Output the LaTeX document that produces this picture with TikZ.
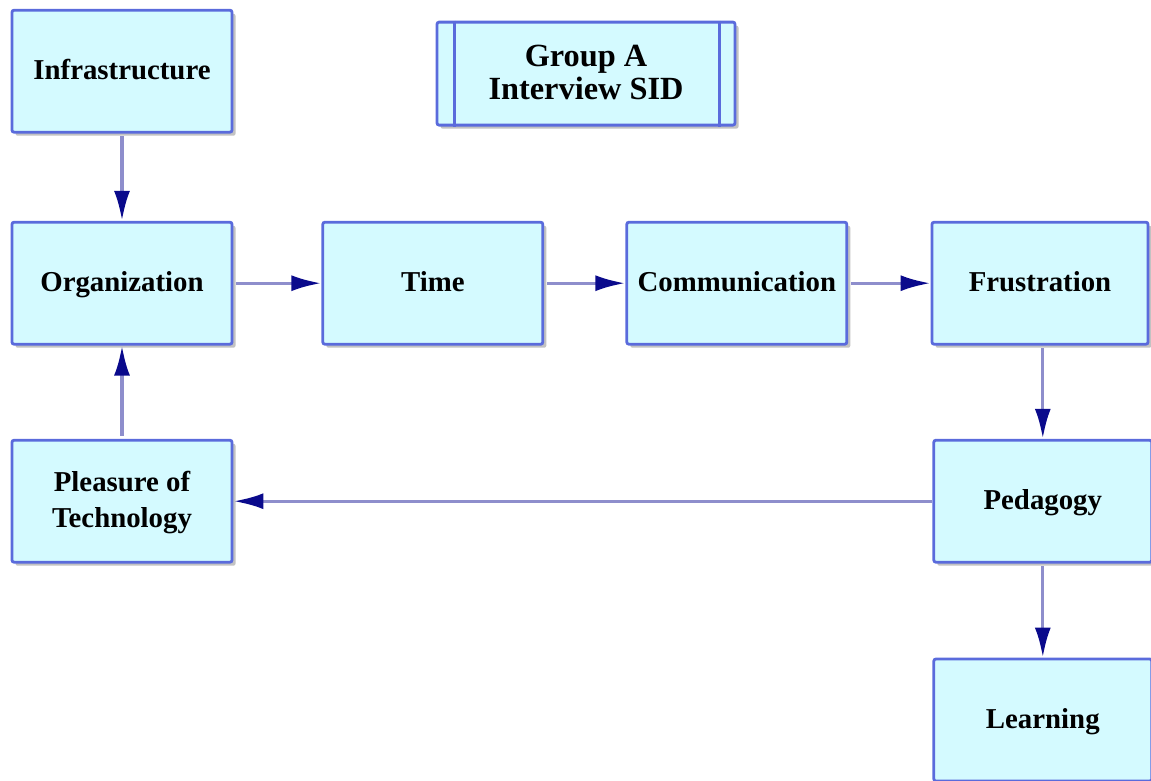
\documentclass[tikz,border=0pt]{standalone}
\usepackage{fontspec}
\setmainfont{Liberation Serif}
\usetikzlibrary{arrows.meta, shadows}
\definecolor{box-border}{HTML}{5A6BDC}
\definecolor{box-fill}{HTML}{D4FAFF}
\definecolor{link}{HTML}{8E8ECC}
\definecolor{tip}{HTML}{0A0A8C}
\tikzset{
  theme/.style={
    draw=box-border, line width=2pt, fill=box-fill, rounded corners=1.5pt,
    minimum width=5.5cm, minimum height=3.05cm, align=center, text depth=0.25em,
    font=\bfseries\fontsize{20.5}{25.5}\selectfont,
    drop shadow={shadow xshift=2.5pt, shadow yshift=-2.5pt, fill=black!40, opacity=0.6}
  },
  title/.style={theme, minimum width=7.45cm, minimum height=2.575cm,
    font=\bfseries\fontsize{23}{23.5}\selectfont},
  link-edge/.style={-{Latex[length=7.5mm, width=4mm, color=tip]}, line width=2.4pt, draw=link}
}

\begin{document}
\begin{tikzpicture}

  \useasboundingbox (0,0) rectangle (28.775,-19.5);

  % ---- Title ---------------------------------------------------------------
  \node[title] (grp) at (14.65, -1.84) {Group A\\Interview SID};
  \draw[draw=box-border, line width=2pt]
        ([xshift=0.48cm]grp.north west) -- ([xshift=0.48cm]grp.south west)
        ([xshift=-0.43cm]grp.north east) -- ([xshift=-0.43cm]grp.south east);

  % ---- Themes --------------------------------------------------------------
  \node[theme] (infra) at (3.05,  -1.78)  {Infrastructure};
  \node[theme] (org)   at (3.05,  -7.08)  {Organization};
  \node[theme] (time)  at (10.82, -7.08)  {Time};
  \node[theme] (comm)  at (18.42, -7.08)  {Communication};
  \node[theme, minimum width=5.4cm] (frus) at (26.0, -7.08) {Frustration};
  \node[theme] (pleas) at (3.05,  -12.53) {Pleasure of\\Technology};
  \node[theme, minimum width=5.45cm] (ped)   at (26.07, -12.53) {Pedagogy};
  \node[theme, minimum width=5.45cm] (learn) at (26.07, -18.0)  {Learning};

  % ---- Links ---------------------------------------------------------------
  \draw[link-edge, shorten <=2pt] (infra) -- (org);
  \draw[link-edge, shorten <=2pt] (org)   -- (time);
  \draw[link-edge, shorten <=2pt] (time)  -- (comm);
  \draw[link-edge, shorten <=2pt] (comm)  -- (frus);
  \draw[link-edge, shorten <=2pt] (frus.south -| ped.north) -- (ped.north);
  \draw[link-edge, shorten <=2pt] (ped)   -- (learn);
  \draw[link-edge] (ped)   -- (pleas);
  \draw[link-edge, shorten <=2pt] (pleas) -- (org);

\end{tikzpicture}
\end{document}
